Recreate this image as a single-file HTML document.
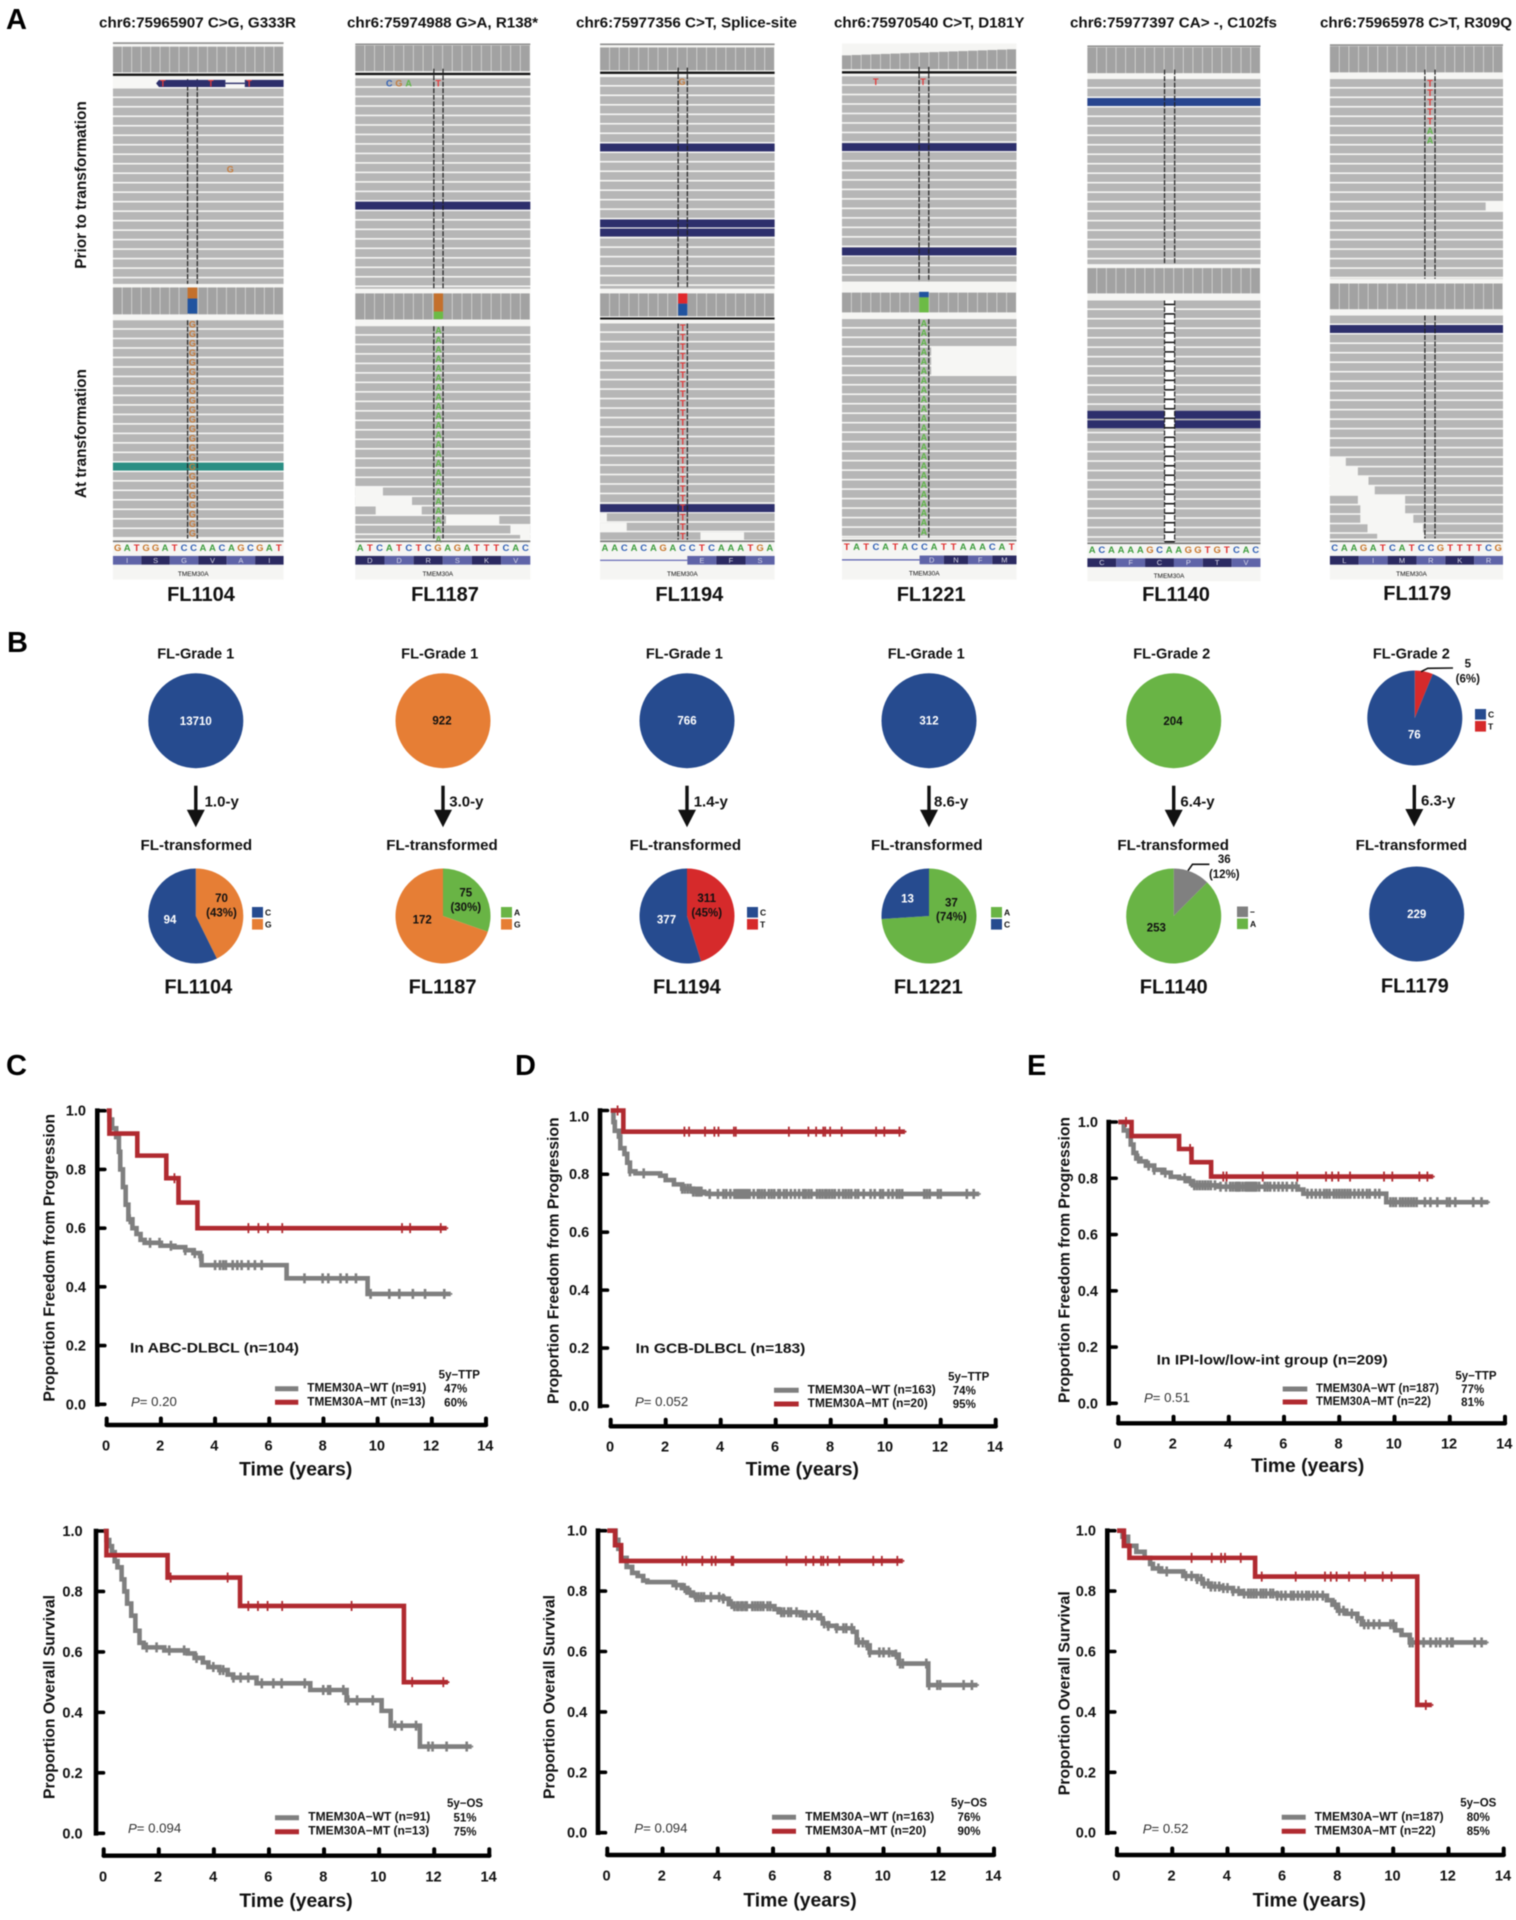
<!DOCTYPE html>
<html lang="en">
<head>
<meta charset="utf-8">
<title>TMEM30A mutation figure</title>
<style>
html,body{margin:0;padding:0;background:#fff;}
svg{display:block;filter:blur(0.4px);}
text{font-family:"Liberation Sans",sans-serif;fill:#111;dominant-baseline:central;}
.b{font-weight:bold;}
.letter{font-size:29px;font-weight:bold;dominant-baseline:auto;fill:#000;}
.mut{font-size:14.5px;font-weight:bold;}
.fl{font-size:20px;font-weight:bold;text-anchor:middle;}
.grade{font-size:14.6px;font-weight:bold;text-anchor:middle;}
.dur{font-size:15px;font-weight:bold;}
.axt{font-size:19.3px;font-weight:bold;text-anchor:middle;}
.yt{font-size:15.8px;font-weight:bold;text-anchor:middle;}
.ann{font-size:13.6px;font-weight:bold;}
.pv{font-size:13.2px;fill:#333;}
.lg{font-size:11.5px;font-weight:bold;}
.lgc{font-size:11.5px;font-weight:bold;text-anchor:middle;}
.pl{font-size:11.5px;font-weight:bold;text-anchor:middle;}
</style>
</head>
<body>
<svg id="figure" xmlns="http://www.w3.org/2000/svg" width="1516" height="1920" viewBox="0 0 1516 1920">
<rect width="1516" height="1920" fill="#fff"/>

<text class="letter" x="6" y="29">A</text>
<text class="letter" x="7" y="652">B</text>
<text class="letter" x="6" y="1075">C</text>
<text class="letter" x="515" y="1075">D</text>
<text class="letter" x="1027" y="1075">E</text>

<g id="igv-layer"></g>

<text class="mut" x="99" y="23.7" textLength="197" lengthAdjust="spacingAndGlyphs">chr6:75965907 C&gt;G, G333R</text>
<text class="mut" x="347" y="23.7" textLength="191" lengthAdjust="spacingAndGlyphs">chr6:75974988 G&gt;A, R138*</text>
<text class="mut" x="576" y="23.7" textLength="221" lengthAdjust="spacingAndGlyphs">chr6:75977356 C&gt;T, Splice-site</text>
<text class="mut" x="834" y="23.7" textLength="190.5" lengthAdjust="spacingAndGlyphs">chr6:75970540 C&gt;T, D181Y</text>
<text class="mut" x="1070" y="23.7" textLength="207" lengthAdjust="spacingAndGlyphs">chr6:75977397 CA&gt; -, C102fs</text>
<text class="mut" x="1320" y="23.7" textLength="192" lengthAdjust="spacingAndGlyphs">chr6:75965978 C&gt;T, R309Q</text>

<text class="grade" style="font-size:15.4px" transform="translate(81.4,185) rotate(-90)">Prior to transformation</text>
<text class="grade" style="font-size:15.4px" transform="translate(81.4,433.6) rotate(-90)">At transformation</text>

<text class="fl" x="201" y="595">FL1104</text>
<text class="fl" x="445" y="595">FL1187</text>
<text class="fl" x="689.3" y="595">FL1194</text>
<text class="fl" x="931.2" y="595">FL1221</text>
<text class="fl" x="1176" y="595">FL1140</text>
<text class="fl" x="1417.2" y="594">FL1179</text>

<!-- Panel B headings -->
<text class="grade" x="195.8" y="654.7">FL-Grade 1</text>
<text class="grade" x="439.7" y="654.7">FL-Grade 1</text>
<text class="grade" x="684.4" y="654.7">FL-Grade 1</text>
<text class="grade" x="926.3" y="654.7">FL-Grade 1</text>
<text class="grade" x="1171.8" y="654.7">FL-Grade 2</text>
<text class="grade" x="1411.4" y="654.7">FL-Grade 2</text>

<text class="grade" style="font-size:15.1px" x="196.3" y="845.7">FL-transformed</text>
<text class="grade" style="font-size:15.1px" x="442" y="845.7">FL-transformed</text>
<text class="grade" style="font-size:15.1px" x="685.4" y="845.7">FL-transformed</text>
<text class="grade" style="font-size:15.1px" x="926.8" y="845.7">FL-transformed</text>
<text class="grade" style="font-size:15.1px" x="1173.2" y="845.7">FL-transformed</text>
<text class="grade" style="font-size:15.1px" x="1411.4" y="845.7">FL-transformed</text>

<text class="dur" x="204.6" y="802">1.0-y</text>
<text class="dur" x="449.3" y="802">3.0-y</text>
<text class="dur" x="693.7" y="802">1.4-y</text>
<text class="dur" x="934" y="802">8.6-y</text>
<text class="dur" x="1180.4" y="802">6.4-y</text>
<text class="dur" x="1421" y="801">6.3-y</text>

<text class="fl" x="198.3" y="987.7">FL1104</text>
<text class="fl" x="442.6" y="987.7">FL1187</text>
<text class="fl" x="686.9" y="987.7">FL1194</text>
<text class="fl" x="928.3" y="987.7">FL1221</text>
<text class="fl" x="1173.7" y="987.7">FL1140</text>
<text class="fl" x="1414.8" y="986.7">FL1179</text>

<g id="pie-layer"></g>
<polyline points="1421,671.7 1427.8,668.3 1453,668" fill="none" stroke="#111" stroke-width="1.6"/>
<polyline points="1188,870.7 1192.5,864.3 1209.4,864.3" fill="none" stroke="#111" stroke-width="1.6"/>

<g id="km-layer"></g>

<!-- Plot C top -->
<text class="yt" transform="translate(50,1257.8) rotate(-90)" textLength="287.7" lengthAdjust="spacingAndGlyphs">Proportion Freedom from Progression</text>
<text class="axt" x="295.7" y="1470">Time (years)</text>
<text class="ann" x="130" y="1348" textLength="169" lengthAdjust="spacingAndGlyphs">In ABC-DLBCL (n=104)</text>
<text class="pv" x="131" y="1401.7"><tspan font-style="italic">P</tspan>= 0.20</text>
<line x1="275" x2="298.3" y1="1388.7" y2="1388.7" stroke="#7f7f7f" stroke-width="5"/>
<line x1="275" x2="298.3" y1="1402.3" y2="1402.3" stroke="#b02a30" stroke-width="5"/>
<text class="lg" x="307.3" y="1388.7" textLength="119" lengthAdjust="spacingAndGlyphs">TMEM30A−WT (n=91)</text>
<text class="lg" x="307.3" y="1402.3" textLength="118" lengthAdjust="spacingAndGlyphs">TMEM30A−MT (n=13)</text>
<text class="lgc" x="459.3" y="1375.7">5y−TTP</text>
<text class="lgc" x="455.7" y="1389.7">47%</text>
<text class="lgc" x="455.7" y="1403.3">60%</text>

<!-- Plot D top -->
<text class="yt" transform="translate(554,1260.7) rotate(-90)" textLength="286.7" lengthAdjust="spacingAndGlyphs">Proportion Freedom from Progression</text>
<text class="axt" x="802.3" y="1470">Time (years)</text>
<text class="ann" x="635.7" y="1348.3" textLength="169.7" lengthAdjust="spacingAndGlyphs">In GCB-DLBCL (n=183)</text>
<text class="pv" x="635" y="1401.7"><tspan font-style="italic">P</tspan>= 0.052</text>
<line x1="774" x2="798.7" y1="1390.3" y2="1390.3" stroke="#7f7f7f" stroke-width="5"/>
<line x1="774" x2="798.7" y1="1404" y2="1404" stroke="#b02a30" stroke-width="5"/>
<text class="lg" x="807.7" y="1390.3" textLength="128" lengthAdjust="spacingAndGlyphs">TMEM30A−WT (n=163)</text>
<text class="lg" x="807.7" y="1404" textLength="120" lengthAdjust="spacingAndGlyphs">TMEM30A−MT (n=20)</text>
<text class="lgc" x="968.7" y="1377.7">5y−TTP</text>
<text class="lgc" x="964.3" y="1391.3">74%</text>
<text class="lgc" x="964.3" y="1405">95%</text>

<!-- Plot E top -->
<text class="yt" transform="translate(1065,1260) rotate(-90)" textLength="286" lengthAdjust="spacingAndGlyphs">Proportion Freedom from Progression</text>
<text class="axt" x="1307.7" y="1466.7">Time (years)</text>
<text class="ann" x="1156.7" y="1360" textLength="231" lengthAdjust="spacingAndGlyphs">In IPI-low/low-int group (n=209)</text>
<text class="pv" x="1144" y="1397.3"><tspan font-style="italic">P</tspan>= 0.51</text>
<line x1="1282.7" x2="1307.3" y1="1389" y2="1389" stroke="#7f7f7f" stroke-width="5"/>
<line x1="1282.7" x2="1307.3" y1="1402" y2="1402" stroke="#b02a30" stroke-width="5"/>
<text class="lg" x="1316" y="1389" textLength="123" lengthAdjust="spacingAndGlyphs">TMEM30A−WT (n=187)</text>
<text class="lg" x="1316" y="1402" textLength="115" lengthAdjust="spacingAndGlyphs">TMEM30A−MT (n=22)</text>
<text class="lgc" x="1476" y="1376.7">5y−TTP</text>
<text class="lgc" x="1472.7" y="1390">77%</text>
<text class="lgc" x="1472.7" y="1403">81%</text>

<!-- Plot C bottom -->
<text class="yt" transform="translate(50,1697) rotate(-90)" textLength="204" lengthAdjust="spacingAndGlyphs">Proportion Overall Survival</text>
<text class="axt" x="296" y="1901.7">Time (years)</text>
<text class="pv" x="128" y="1828"><tspan font-style="italic">P</tspan>= 0.094</text>
<line x1="275" x2="299" y1="1817.7" y2="1817.7" stroke="#7f7f7f" stroke-width="5"/>
<line x1="275" x2="299" y1="1831.7" y2="1831.7" stroke="#b02a30" stroke-width="5"/>
<text class="lg" x="308.3" y="1817.7" textLength="122" lengthAdjust="spacingAndGlyphs">TMEM30A−WT (n=91)</text>
<text class="lg" x="308.3" y="1831.7" textLength="121" lengthAdjust="spacingAndGlyphs">TMEM30A−MT (n=13)</text>
<text class="lgc" x="465" y="1804">5y−OS</text>
<text class="lgc" x="465" y="1818.7">51%</text>
<text class="lgc" x="465" y="1832.7">75%</text>

<!-- Plot D bottom -->
<text class="yt" transform="translate(550,1697) rotate(-90)" textLength="204" lengthAdjust="spacingAndGlyphs">Proportion Overall Survival</text>
<text class="axt" x="800" y="1901">Time (years)</text>
<text class="pv" x="634.3" y="1828"><tspan font-style="italic">P</tspan>= 0.094</text>
<line x1="772" x2="796" y1="1817.3" y2="1817.3" stroke="#7f7f7f" stroke-width="5"/>
<line x1="772" x2="796" y1="1831.3" y2="1831.3" stroke="#b02a30" stroke-width="5"/>
<text class="lg" x="805.3" y="1817.3" textLength="129" lengthAdjust="spacingAndGlyphs">TMEM30A−WT (n=163)</text>
<text class="lg" x="805.3" y="1831.3" textLength="121" lengthAdjust="spacingAndGlyphs">TMEM30A−MT (n=20)</text>
<text class="lgc" x="969" y="1803.3">5y−OS</text>
<text class="lgc" x="969" y="1818">76%</text>
<text class="lgc" x="969" y="1832">90%</text>

<!-- Plot E bottom -->
<text class="yt" transform="translate(1065,1693.3) rotate(-90)" textLength="204" lengthAdjust="spacingAndGlyphs">Proportion Overall Survival</text>
<text class="axt" x="1309.3" y="1901">Time (years)</text>
<text class="pv" x="1142.7" y="1828.7"><tspan font-style="italic">P</tspan>= 0.52</text>
<line x1="1281.7" x2="1305.7" y1="1817.3" y2="1817.3" stroke="#7f7f7f" stroke-width="5"/>
<line x1="1281.7" x2="1305.7" y1="1831.3" y2="1831.3" stroke="#b02a30" stroke-width="5"/>
<text class="lg" x="1314.7" y="1817.3" textLength="129" lengthAdjust="spacingAndGlyphs">TMEM30A−WT (n=187)</text>
<text class="lg" x="1314.7" y="1831.3" textLength="121" lengthAdjust="spacingAndGlyphs">TMEM30A−MT (n=22)</text>
<text class="lgc" x="1478.3" y="1803.3">5y−OS</text>
<text class="lgc" x="1478.3" y="1818">80%</text>
<text class="lgc" x="1478.3" y="1832">85%</text>
</svg>

<script>
/* ---------- Chart data: survival curves ---------- */
const xTickLabels = [0, 2, 4, 6, 8, 10, 12, 14];
const yTickValues = [0, 0.2, 0.4, 0.6, 0.8, 1.0];

const abcTtpMtTimes = [0, 0.1, 1.13, 2.2, 2.65, 3.35, 12.55];
const abcTtpMtSurv = [1, 0.922, 0.847, 0.77, 0.687, 0.6, 0.6];
const abcTtpMtCensor = [2.5, 5.23, 5.6, 5.95, 6.48, 10.9, 11.2, 12.33];
const abcTtpWtTimes = [0, 0.1, 0.2, 0.35, 0.45, 0.5, 0.6, 0.7, 0.8, 0.95, 1.1, 1.25, 1.4, 2, 2.5, 2.9, 3.2, 3.45, 3.5, 6.64, 9.63, 12.7];
const abcTtpWtSurv = [1, 0.97, 0.94, 0.91, 0.86, 0.8, 0.74, 0.68, 0.63, 0.6, 0.58, 0.56, 0.55, 0.54, 0.535, 0.525, 0.515, 0.505, 0.474, 0.429, 0.376, 0.376];
const abcTtpWtCensor = [0.85, 1.6, 1.95, 2.37, 2.9, 3.25, 3.45, 4.0, 4.18, 4.3, 4.4, 4.65, 4.82, 4.98, 5.23, 5.47, 5.72, 7.3, 7.97, 8.18, 8.63, 8.86, 9.2, 9.74, 10.43, 10.8, 11.3, 11.75, 12.46];

const gcbTtpMtTimes = [0, 0.46, 10.7];
const gcbTtpMtSurv = [1.02, 0.947, 0.947];
const gcbTtpMtCensor = [0.25, 2.68, 2.85, 3.43, 3.77, 3.92, 4.48, 4.55, 6.48, 7.19, 7.47, 7.73, 7.8, 7.98, 8.4, 9.65, 9.95, 10.5];
const gcbTtpWtTimes = [0, 0.1, 0.15, 0.3, 0.35, 0.5, 0.6, 0.7, 0.9, 1.8, 2.0, 2.3, 2.6, 3.0, 3.4, 3.5, 13.4];
const gcbTtpWtSurv = [1.02, 0.98, 0.95, 0.93, 0.89, 0.87, 0.84, 0.81, 0.803, 0.795, 0.78, 0.765, 0.75, 0.74, 0.735, 0.732, 0.732];
const gcbTtpWtCensor = [0.7, 1.2, 2.6, 2.7, 2.8, 2.9, 3.0, 3.1, 3.15, 3.2, 3.25, 3.3, 3.6, 3.9, 4.1, 4.2, 4.35, 4.5, 4.55, 4.6, 4.65, 4.7, 4.75, 4.8, 4.85, 4.9, 4.95, 5.0, 5.05, 5.2, 5.35, 5.4, 5.5, 5.6, 5.75, 5.85, 5.95, 6.1, 6.15, 6.3, 6.4, 6.55, 6.7, 6.85, 7.0, 7.05, 7.1, 7.2, 7.3, 7.5, 7.6, 7.7, 7.8, 7.85, 7.95, 8.05, 8.15, 8.3, 8.45, 8.55, 8.65, 8.75, 8.9, 9.0, 9.2, 9.45, 9.6, 9.8, 9.9, 10.1, 10.25, 10.4, 10.5, 10.6, 11.4, 11.5, 11.6, 11.9, 12.0, 12.95, 13.2];

const ipiTtpMtTimes = [0, 0.48, 2.2, 2.65, 3.36, 11.4];
const ipiTtpMtSurv = [1, 0.95, 0.904, 0.857, 0.806, 0.806];
const ipiTtpMtCensor = [0.28, 2.6, 3.8, 3.92, 5.23, 6.48, 7.52, 7.74, 7.97, 8.39, 9.62, 9.92, 10.9, 11.19];
const ipiTtpWtTimes = [0, 0.2, 0.35, 0.45, 0.55, 0.65, 0.8, 1.0, 1.3, 1.6, 1.9, 2.2, 2.5, 2.7, 3.6, 6.5, 6.7, 9.7, 13.4];
const ipiTtpWtSurv = [1, 0.97, 0.95, 0.92, 0.89, 0.87, 0.86, 0.845, 0.83, 0.82, 0.805, 0.8, 0.79, 0.775, 0.77, 0.76, 0.745, 0.715, 0.715];
const ipiTtpWtCensor = [0.72, 1.1, 1.3, 1.7, 2.4, 2.6, 2.75, 2.85, 2.95, 3.05, 3.15, 3.25, 3.35, 3.5, 3.7, 3.9, 4.05, 4.15, 4.25, 4.3, 4.35, 4.4, 4.5, 4.6, 4.65, 4.7, 4.75, 4.8, 4.85, 4.9, 4.95, 5.0, 5.1, 5.3, 5.4, 5.5, 5.65, 5.8, 5.95, 6.1, 6.3, 6.45, 6.85, 7.0, 7.15, 7.3, 7.45, 7.55, 7.65, 7.8, 7.9, 8.0, 8.1, 8.2, 8.3, 8.4, 8.55, 8.7, 8.85, 9.0, 9.1, 9.3, 9.45, 9.85, 9.95, 10.05, 10.2, 10.3, 10.4, 10.5, 10.6, 10.7, 10.8, 11.1, 11.3, 11.55, 11.9, 12.0, 12.2, 12.85, 13.15];

const abcOsMtTimes = [0, 0.1, 2.32, 4.95, 10.9, 12.5];
const abcOsMtSurv = [1, 0.92, 0.846, 0.752, 0.5, 0.5];
const abcOsMtCensor = [2.43, 4.5, 5.25, 5.6, 5.95, 6.48, 9.0, 11.2, 12.33];
const abcOsWtTimes = [0, 0.1, 0.2, 0.3, 0.4, 0.5, 0.65, 0.75, 0.85, 1.0, 1.15, 1.3, 1.45, 2.2, 3.05, 3.3, 3.6, 3.8, 4.2, 4.5, 4.7, 5.55, 7.5, 8.82, 10.09, 10.42, 11.48, 13.36];
const abcOsWtSurv = [1, 0.97, 0.95, 0.93, 0.9, 0.88, 0.84, 0.8, 0.76, 0.72, 0.67, 0.63, 0.615, 0.605, 0.595, 0.58, 0.565, 0.55, 0.54, 0.525, 0.515, 0.496, 0.474, 0.44, 0.405, 0.356, 0.287, 0.287];
const abcOsWtCensor = [1.56, 1.92, 2.38, 2.92, 3.37, 3.98, 4.22, 4.34, 4.71, 4.97, 5.25, 5.74, 6.16, 6.46, 7.3, 7.97, 8.15, 8.22, 8.7, 8.88, 9.2, 9.77, 10.58, 10.82, 11.34, 11.79, 11.94, 12.45, 13.18];

const gcbOsMtTimes = [0, 0.28, 0.5, 10.7];
const gcbOsMtSurv = [1, 0.952, 0.9, 0.9];
const gcbOsMtCensor = [2.72, 2.86, 3.44, 3.78, 3.92, 4.5, 4.56, 6.49, 7.19, 7.46, 7.74, 7.82, 7.98, 8.4, 9.63, 9.94, 10.5];
const gcbOsWtTimes = [0, 0.3, 0.4, 0.5, 0.7, 0.9, 1.1, 1.3, 1.45, 2.4, 2.7, 2.9, 3.1, 3.2, 4.2, 4.4, 4.55, 6.05, 6.2, 7.0, 7.7, 7.8, 8.0, 8.3, 8.9, 9.03, 9.4, 9.5, 10.35, 10.55, 11.62, 13.4];
const gcbOsWtSurv = [1, 0.97, 0.94, 0.91, 0.88, 0.86, 0.85, 0.835, 0.83, 0.82, 0.81, 0.795, 0.785, 0.78, 0.775, 0.757, 0.75, 0.74, 0.73, 0.72, 0.71, 0.693, 0.685, 0.677, 0.665, 0.63, 0.62, 0.597, 0.59, 0.56, 0.489, 0.489];
const gcbOsWtCensor = [2.5, 2.8, 3.0, 3.2, 3.3, 3.4, 3.5, 3.75, 4.05, 4.2, 4.5, 4.6, 4.7, 4.75, 4.85, 4.9, 5.0, 5.05, 5.25, 5.35, 5.45, 5.55, 5.65, 5.8, 5.9, 6.3, 6.4, 6.55, 6.65, 6.85, 7.1, 7.2, 7.4, 7.6, 7.85, 8.0, 8.3, 8.55, 8.65, 8.85, 9.1, 9.25, 9.4, 9.5, 9.85, 10.0, 10.2, 10.45, 10.6, 10.7, 11.55, 11.65, 11.95, 12.05, 12.9, 13.2];

const ipiOsMtTimes = [0, 0.25, 0.45, 5.0, 10.87, 11.4];
const ipiOsMtSurv = [1, 0.95, 0.91, 0.848, 0.423, 0.423];
const ipiOsMtCensor = [2.7, 3.43, 3.77, 3.91, 4.48, 5.24, 6.47, 7.53, 7.74, 7.95, 8.4, 8.98, 9.62, 9.94, 11.18];
const ipiOsWtTimes = [0, 0.2, 0.4, 0.7, 1.0, 1.2, 1.3, 1.6, 2.4, 2.9, 3.1, 3.4, 3.8, 4.2, 4.5, 5.8, 7.6, 7.8, 8.0, 8.3, 8.7, 8.86, 10.07, 10.3, 10.6, 13.4];
const ipiOsWtSurv = [1, 0.98, 0.95, 0.93, 0.91, 0.89, 0.875, 0.865, 0.85, 0.84, 0.825, 0.815, 0.81, 0.8, 0.792, 0.785, 0.77, 0.755, 0.735, 0.725, 0.71, 0.69, 0.67, 0.655, 0.63, 0.63];
const ipiOsWtCensor = [1.5, 1.8, 2.5, 2.7, 2.9, 3.05, 3.15, 3.3, 3.4, 3.55, 3.7, 3.85, 4.0, 4.2, 4.4, 4.6, 4.75, 4.85, 4.95, 5.05, 5.2, 5.3, 5.4, 5.55, 5.65, 5.8, 5.95, 6.1, 6.3, 6.4, 6.55, 6.7, 6.85, 6.95, 7.1, 7.25, 7.45, 7.9, 8.05, 8.2, 8.5, 8.7, 8.95, 9.1, 9.3, 9.5, 9.9, 10.0, 10.6, 10.7, 10.85, 11.1, 11.35, 11.55, 11.7, 11.95, 12.1, 12.15, 12.95, 13.2];

/* ---------- Chart data: allele pies ---------- */
const pieSamples = ['FL1104', 'FL1187', 'FL1194', 'FL1221', 'FL1140', 'FL1179'];
const gradePieValues = [[13710], [922], [766], [312], [204], [5, 76]];
const gradePieBases = [['C'], ['G'], ['C'], ['C'], ['A'], ['T', 'C']];
const transformedPieValues = [[70, 94], [75, 172], [311, 377], [37, 13], [36, 253], [229]];
const transformedPieBases = [['G', 'C'], ['A', 'G'], ['T', 'C'], ['A', 'C'], ['-', 'A'], ['C']];

/* ---------- IGV tracks: sequence content ---------- */
const igvSequences = ['GATGGATCCAACAGCGAT', 'ATCATCTCGAGATTTCAC', 'AACACAGACCTCAAATGA', 'TATCATACCATTAAACAT', 'ACAAAAGCAAGGTGTCAC', 'CAAGATCATCCGTTTTCG'];
const igvAminoAcids = [['I','S','G','V','A','I'], ['D','D','R','S','K','V'], ['E','F','S'], ['D','N','F','M'], ['C','F','C','P','T','V'], ['L','I','M','R','K','R']];

const NS = 'http://www.w3.org/2000/svg';
function mk(parent, tag, attrs, txt) {
  const el = document.createElementNS(NS, tag);
  for (const k in attrs) el.setAttribute(k, attrs[k]);
  if (txt !== undefined) el.textContent = txt;
  parent.appendChild(el);
  return el;
}

/* ---------- Panel A ---------- */
function drawIgv() {
  const layer = document.getElementById('igv-layer');
  const baseColor = { A: '#3f9e3f', C: '#2f5fb5', G: '#c8762a', T: '#e03030' };
  const readLetterColor = { A: '#5fb548', G: '#c47a3a', T: '#e23b3b' };
  const Y = z => z / 2.529;
  const panels = [
    { z: 0, x: [233, 585], dash: [387, 407], top: 107, cov: [118, 183], black: [186, 192], r1: [224, 718], cov2: [727, 795], r2: [810, 1362], blue1: [], blue2: [], teal2: [1170], seq: 1387, aa: [1406, 1428], gene: 1453, end: 1466, allele: [['#c4702c', 727, 755], ['#20539f', 755, 793]], letter2: 'G', patches: [] },
    { z: 0, x: [733, 1094], dash: [895, 914], top: 110, cov: [115, 180], black: [184, 190], r1: [198, 730], cov2: [742, 808], r2: [825, 1362], blue1: [510], blue2: [], seq: 1387, aa: [1406, 1428], gene: 1453, end: 1466, allele: [['#c4702c', 742, 788], ['#6cbb45', 788, 807]], letter2: 'A', patches: [[733,1232,790,1256],[733,1256,850,1280],[775,1280,870,1304],[920,1304,1030,1328],[1053,1328,1094,1352],[1073,1352,1094,1366]] },
    { z: 0, x: [1238, 1598], dash: [1399, 1418], top: 110, cov: [120, 178], black: [181, 187], black2: [803, 808], r1: [195, 730], cov2: [742, 800], r2: [818, 1365], blue1: [363, 555, 578], blue2: [1275], seq: 1387, aa: [1406, 1428], intron: 1418, gene: 1453, end: 1466, allele: [['#e0282c', 742, 768], ['#20539f', 768, 798]], letter2: 'T', patches: [[1238,1298,1252,1322],[1238,1322,1293,1346],[1445,1346,1535,1366]] },
    { z: 1, x: [170, 532], dash: [330, 350], top: 110, cov: [133, 175], slope: true, black: [180, 186], r1: [193, 712], cov2: [740, 790], r2: [807, 1360], blue1: [362, 626], blue2: [], seq: 1385, aa: [1405, 1427], intron: 331, gene: 1452, end: 1466, allele: [['#20539f', 738, 752], ['#6cbb45', 752, 790]], letter2: 'A', patches: [[355,877,532,949]] },
    { z: 1, x: [679, 1038], dash: [839, 860], top: 115, cov: [120, 185], r1: [200, 668], cov2: [678, 742], r2: [760, 1370], lightBlue1: [248], blue1: [], blue2: [1039, 1063], seq: 1392, aa: [1412, 1434], gene: 1458, end: 1470, allele: [], deletion: true, patches: [] },
    { z: 1, x: [1182, 1541], dash: [1379, 1400], top: 112, cov: [117, 183], r1: [200, 705], cov2: [717, 782], r2: [798, 1362], blue1: [], blue2: [822], seq: 1387, aa: [1406, 1428], gene: 1453, end: 1466, allele: [], letters1: ['T','T','T','T','T','A','A'], patches: [[1505,510,1541,534],[1182,1157,1215,1180],[1182,1180,1240,1204],[1182,1204,1262,1228],[1182,1228,1275,1252],[1240,1252,1338,1276],[1245,1276,1338,1300],[1245,1300,1355,1324],[1260,1324,1375,1348],[1280,1348,1378,1366]] }
  ];
  panels.forEach((p, idx) => {
    const X = z => p.z ? 760 + z / 2.074 : z / 2.063;
    const x0 = X(p.x[0]), x1 = X(p.x[1]), w = x1 - x0;
    const g = mk(layer, 'g', {});
    
    

    const bg = mk(g, 'rect', { x: x0, y: Y(p.top), width: w, height: Y(p.end) - Y(p.top), fill: '#f5f5f3' });
    
    

    const frame = mk(g, 'rect', { x: x0, y: Y(p.top), width: w, height: 1.6, fill: p.slope ? '#f5f5f3' : '#8e8e8e' });
    
    

    // coverage tracks
    [p.cov, p.cov2].forEach((c, ci) => {
      const cw = w / 18;
      for (let i = 0; i < 18; i++) {
        const t = (p.slope && ci === 0) ? c[0] + 7 - i * 0.9 : c[0];
        const bar = mk(g, 'rect', { x: x0 + i * cw, y: Y(t), width: cw - 0.5, height: Y(c[1]) - Y(t), fill: '#a2a2a2' });
        
        
      }
    });
    [p.black, p.black2].forEach(b => {
      if (!b) return;
      const line = mk(g, 'rect', { x: x0, y: Y(b[0]), width: w, height: Y(b[1]) - Y(b[0]), fill: '#151515' });
      
      
    });

    // read rows
    const midX = X((p.dash[0] + p.dash[1]) / 2);
    const drawRows = (range) => {
      for (let t = range[0]; t < range[1]; t += 24) {
        const b = Math.min(t + 20, range[1]);
        const read = mk(g, 'rect', { x: x0, y: Y(t), width: w, height: Y(b) - Y(t), fill: '#b6b6b6' });
        
        
      }
    };
    if (idx === 0) {
      const firstRow = mk(g, 'rect', { x: x0, y: Y(200), width: w, height: Y(222) - Y(200), fill: '#f7f7f5' });
      
      
    }
    drawRows(p.r1);
    drawRows(p.r2);

    (p.patches || []).forEach(q => {
      const patch = mk(g, 'rect', { x: X(q[0]), y: Y(q[1]), width: X(q[2]) - X(q[0]), height: Y(q[3]) - Y(q[1]), fill: '#f6f6f4' });
      
      
    });

    const band = (list, color, name) => (list || []).forEach(t => {
      const r = mk(g, 'rect', { x: x0, y: Y(t), width: w, height: Y(t + 20) - Y(t), fill: color });
      
      
    });
    band(p.blue1, '#2d2f6c', 'dark-read-row');
    band(p.blue2, '#2d2f6c', 'dark-read-row');
    band(p.lightBlue1, '#27458f', 'blue-read-row');
    band(p.teal2, '#2a8f84', 'teal-read-row');

    // allele-frequency column
    p.allele.forEach(a => {
      const r = mk(g, 'rect', { x: X(p.dash[0]), y: Y(a[1]), width: X(p.dash[1]) - X(p.dash[0]), height: Y(a[2]) - Y(a[1]), fill: a[0] });
      
      
    });

    // deletion ladder
    if (p.deletion) {
      const del = mk(g, 'rect', { x: X(p.dash[0]), y: Y(p.r2[0]), width: X(p.dash[1]) - X(p.dash[0]), height: Y(p.r2[1]) - Y(p.r2[0]), fill: '#fff' });
      
      
      for (let t = p.r2[0] + 8; t < p.r2[1]; t += 24) {
        const rung = mk(g, 'rect', { x: X(p.dash[0]), y: Y(t), width: X(p.dash[1]) - X(p.dash[0]), height: 1.5, fill: '#111' });
        
        
      }
    }

    // dashed position guides
    p.dash.forEach(d => {
      const top = p.r1[0] - 24;
      const a = mk(g, 'line', { x1: X(d), x2: X(d), y1: Y(top), y2: Y(p.r1[1]), stroke: '#222', 'stroke-width': 1.2, 'stroke-dasharray': '5 1.5' });
      
      
      const b = mk(g, 'line', { x1: X(d), x2: X(d), y1: Y(p.r2[0]), y2: Y(p.r2[1]), stroke: '#222', 'stroke-width': 1.2, 'stroke-dasharray': '5 1.5' });
      
      
    });

    // read letters
    if (p.letter2) {
      for (let t = p.r2[0]; t < p.r2[1] - 4; t += 24) {
        const l = mk(g, 'text', { x: midX, y: Y(t + 11), 'font-size': 9, 'font-weight': 'bold', 'text-anchor': 'middle', style: 'fill:' + readLetterColor[p.letter2] }, p.letter2);
        
        
      }
    }
    (p.letters1 || []).forEach((c, i) => {
      const l = mk(g, 'text', { x: midX, y: Y(p.r1[0] + i * 24 + 11), 'font-size': 9, 'font-weight': 'bold', 'text-anchor': 'middle', style: 'fill:' + readLetterColor[c] }, c);
      
      
    });

    // reference rule
    const ref = mk(g, 'rect', { x: x0, y: Y(p.seq - 20), width: w, height: 1.6, fill: '#777' });
    
    

    // sequence
    const seq = igvSequences[idx];
    [...seq].forEach((c, i) => {
      const t = mk(g, 'text', { x: x0 + (i + 0.5) * w / seq.length, y: Y(p.seq), 'font-size': 9.5, 'font-weight': 'bold', 'text-anchor': 'middle', style: 'fill:' + baseColor[c] }, c);
      
      
    });

    // amino-acid track
    const aas = igvAminoAcids[idx];
    const aaStart = p.intron ? X(p.intron) : x0;
    const cellW = (x1 - aaStart) / aas.length;
    const startDark = idx === 1 || idx === 4 || idx === 5;
    if (p.intron) {
      const il = mk(g, 'line', { x1: x0, x2: aaStart, y1: Y((p.aa[0] + p.aa[1]) / 2), y2: Y((p.aa[0] + p.aa[1]) / 2), stroke: '#5a5fb0', 'stroke-width': 1.2 });
      
      
    }
    aas.forEach((c, i) => {
      const dark = (i % 2 === 0) === startDark;
      const cell = mk(g, 'rect', { x: aaStart + i * cellW, y: Y(p.aa[0]), width: cellW, height: Y(p.aa[1]) - Y(p.aa[0]), fill: dark ? '#2b2a62' : '#5f64a8' });
      
      
      const t = mk(g, 'text', { x: aaStart + (i + 0.5) * cellW, y: Y((p.aa[0] + p.aa[1]) / 2), 'font-size': 7.5, 'text-anchor': 'middle', style: 'fill:#d8d8e8' }, c);
      
      
    });

    const gene = mk(g, 'text', { x: (x0 + x1) / 2 - 5, y: Y(p.gene), 'font-size': 6.5, 'text-anchor': 'middle' }, 'TMEM30A');
    
    
  });

  // gene-model read on the first panel
  const X0 = z => z / 2.063;
  const geneRead = mk(layer, 'path', { d: `M${X0(322)} ${Y(211)}L${X0(328)} ${Y(202)}H${X0(465)}V${Y(220)}H${X0(328)}Z M${X0(505)} ${Y(202)}H${X0(585)}V${Y(220)}H${X0(505)}Z`, fill: '#2d2f6c' });
  
  
  const geneLink = mk(layer, 'rect', { x: X0(465), y: Y(209), width: X0(505) - X0(465), height: 1.4, fill: '#2d2f6c' });
  
  
  const marks = [[0, 475, 429, 'G', '#c47a3a'], [0, 904, 211, 'T', '#e23b3b'], [0, 803, 211, 'C', '#2f5fb5'], [0, 823, 211, 'G', '#c47a3a'], [0, 843, 211, 'A', '#5fb548'], [0, 1407, 208, 'G', '#c47a3a'], [1, 240, 207, 'T', '#e23b3b'], [1, 338, 207, 'T', '#e23b3b'], [0, 336, 211, 'T', '#e23b3b'], [0, 435, 211, 'T', '#e23b3b'], [0, 514, 211, 'T', '#e23b3b']];
  marks.forEach(m => {
    const t = mk(layer, 'text', { x: m[0] ? 760 + m[1] / 2.074 : m[1] / 2.063, y: Y(m[2]), 'font-size': 9, 'font-weight': 'bold', 'text-anchor': 'middle', style: 'fill:' + m[4] }, m[3]);
    
    
  });
}

/* ---------- Panel B ---------- */
const pieColor = { C: '#264b8f', G: '#e67e35', A: '#69b445', T: '#d62a2b', '-': '#808080' };
function drawPies() {
  const layer = document.getElementById('pie-layer');
  const R = 47.5;
  const pieLayout = [
    { top: [195.8, 720.7], low: [195.8, 916], arrowX: 195.8, arrowTop: 785.7, legend: [252, 907], legendOrder: ['C', 'G'], label: { top: [[195.8, 722]], low: [[221.5, 899, 913.3], [170, 920.7]] } },
    { top: [443, 720.7], low: [443, 916], arrowX: 443, arrowTop: 785.7, legend: [501, 907], legendOrder: ['A', 'G'], label: { top: [[442, 721.3]], low: [[465.8, 893.3, 908], [422.2, 920.7]] } },
    { top: [687, 720.7], low: [687, 916], arrowX: 687, arrowTop: 785.7, legend: [747, 907], legendOrder: ['C', 'T'], label: { top: [[687, 721.3]], low: [[706.7, 899, 913.3], [666.5, 920.7]] } },
    { top: [929, 720.7], low: [929, 916], arrowX: 929, arrowTop: 785.7, legend: [991, 907], legendOrder: ['A', 'C'], label: { top: [[929, 721.3]], low: [[951.4, 903.3, 917.7], [907.5, 899.3]] } },
    { top: [1173.7, 720.7], low: [1173.7, 916], arrowX: 1173.7, arrowTop: 785.7, legend: [1237, 906.5], legendOrder: ['-', 'A'], label: { top: [[1173, 722]], low: [[1224.3, 860, 875], [1156.3, 928.3]] } },
    { top: [1414.8, 718], low: [1416.7, 914], arrowX: 1414.3, arrowTop: 785, legend: [1475, 709], legendOrder: ['C', 'T'], label: { top: [[1467.8, 664.3, 679.3], [1414.3, 735.3]], low: [[1416.7, 915]] } }
  ];
  const drawPie = (values, bases, c, labelPos) => {
    const total = values.reduce((a, b) => a + b, 0);
    let ang = 0;
    values.forEach((v, i) => {
      const color = pieColor[bases[i]];
      if (values.length === 1) {
        const full = mk(layer, 'circle', { cx: c[0], cy: c[1], r: R, fill: color });
        
        
      } else {
        const a2 = ang + v / total * Math.PI * 2;
        const large = a2 - ang > Math.PI ? 1 : 0;
        const d = `M${c[0]} ${c[1]}L${c[0] + R * Math.sin(ang)} ${c[1] - R * Math.cos(ang)}A${R} ${R} 0 ${large} 1 ${c[0] + R * Math.sin(a2)} ${c[1] - R * Math.cos(a2)}Z`;
        const slice = mk(layer, 'path', { d: d, fill: color });
        
        
        ang = a2;
      }
      const pos = labelPos[i];
      const lightText = bases[i] === 'C';
      const t = mk(layer, 'text', { class: 'pl', x: pos[0], y: pos[1], style: 'fill:' + (lightText ? '#fff' : '#111') }, String(v));
      
      
      if (pos.length > 2) {
        const pct = mk(layer, 'text', { class: 'pl', x: pos[0], y: pos[2], style: 'fill:#111' }, '(' + Math.round(v / total * 100) + '%)');
        
        
      }
    });
  };
  pieSamples.forEach((s, i) => {
    const L = pieLayout[i];
    drawPie(gradePieValues[i], gradePieBases[i], L.top, L.label.top);
    drawPie(transformedPieValues[i], transformedPieBases[i], L.low, L.label.low);

    const shaft = mk(layer, 'line', { x1: L.arrowX, x2: L.arrowX, y1: L.arrowTop, y2: L.arrowTop + 26, stroke: '#111', 'stroke-width': 3.4 });
    
    
    const head = mk(layer, 'polygon', { points: `${L.arrowX - 9},${L.arrowTop + 24} ${L.arrowX + 9},${L.arrowTop + 24} ${L.arrowX},${L.arrowTop + 41.5}`, fill: '#111' });
    
    

    L.legendOrder.forEach((b, k) => {
      const sw = mk(layer, 'rect', { x: L.legend[0], y: L.legend[1] + k * 12, width: 11, height: 10.6, fill: pieColor[b] });
      
      
      const t = mk(layer, 'text', { x: L.legend[0] + 13, y: L.legend[1] + 5.5 + k * 12, 'font-size': 8.5, 'font-weight': 'bold' }, b === '-' ? '−' : b);
      
      
    });
  });
}

/* ---------- Panels C-E ---------- */
function drawKm() {
  const layer = document.getElementById('km-layer');
  const plots = [
    { id: 'abc-ttp', x0: 106.7, x14: 486, y1: 1110.7, y0: 1404.3, axisX: 97.3, axisY: 1425, labelRight: 86, labelY: 1446.7, wt: [abcTtpWtTimes, abcTtpWtSurv, abcTtpWtCensor], mt: [abcTtpMtTimes, abcTtpMtSurv, abcTtpMtCensor] },
    { id: 'gcb-ttp', x0: 610.7, x14: 995.7, y1: 1116.3, y0: 1406, topV: 1.02, axisX: 600, axisY: 1426.3, labelRight: 589.3, labelY: 1447.3, wt: [gcbTtpWtTimes, gcbTtpWtSurv, gcbTtpWtCensor], mt: [gcbTtpMtTimes, gcbTtpMtSurv, gcbTtpMtCensor] },
    { id: 'ipi-ttp', x0: 1118.3, x14: 1505, y1: 1122, y0: 1403.3, axisX: 1108.7, axisY: 1423.3, labelRight: 1098, labelY: 1444.3, wt: [ipiTtpWtTimes, ipiTtpWtSurv, ipiTtpWtCensor], mt: [ipiTtpMtTimes, ipiTtpMtSurv, ipiTtpMtCensor] },
    { id: 'abc-os', x0: 103.7, x14: 489.3, y1: 1531, y0: 1833.3, axisX: 96, axisY: 1855.7, labelRight: 82.7, labelY: 1877.3, wt: [abcOsWtTimes, abcOsWtSurv, abcOsWtCensor], mt: [abcOsMtTimes, abcOsMtSurv, abcOsMtCensor] },
    { id: 'gcb-os', x0: 607.3, x14: 994, y1: 1530.7, y0: 1832.7, axisX: 598, axisY: 1855, labelRight: 587.3, labelY: 1876.7, wt: [gcbOsWtTimes, gcbOsWtSurv, gcbOsWtCensor], mt: [gcbOsMtTimes, gcbOsMtSurv, gcbOsMtCensor] },
    { id: 'ipi-os', x0: 1117, x14: 1503.7, y1: 1530.7, y0: 1832.7, axisX: 1107.3, axisY: 1855, labelRight: 1096, labelY: 1876.7, wt: [ipiOsWtTimes, ipiOsWtSurv, ipiOsWtCensor], mt: [ipiOsMtTimes, ipiOsMtSurv, ipiOsMtCensor] }
  ];
  plots.forEach(P => {
    const sx = t => P.x0 + t / 14 * (P.x14 - P.x0);
    const sy = v => P.y0 - v * (P.y0 - P.y1);
    const g = mk(layer, 'g', {});
    
    

    const topV = P.topV || 1;
    const yAxis = mk(g, 'line', { x1: P.axisX, x2: P.axisX, y1: sy(topV), y2: sy(0), stroke: '#000', 'stroke-width': 4.6, 'stroke-linecap': 'square' });
    
    
    yTickValues.forEach(v => {
      const tickV = v === 1 ? topV : v;
      const tick = mk(g, 'line', { x1: P.axisX, x2: P.axisX + 7.5, y1: sy(tickV), y2: sy(tickV), stroke: '#000', 'stroke-width': 3.6, 'stroke-linecap': 'round' });
      
      
      const lab = mk(g, 'text', { x: P.labelRight, y: sy(v) + 1, 'font-size': 14.6, 'font-weight': 'bold', 'text-anchor': 'end' }, v.toFixed(1));
      
      
    });

    const xAxis = mk(g, 'line', { x1: sx(0), x2: sx(14), y1: P.axisY, y2: P.axisY, stroke: '#000', 'stroke-width': 4.4, 'stroke-linecap': 'round' });
    
    
    xTickLabels.forEach(t => {
      const tick = mk(g, 'line', { x1: sx(t), x2: sx(t), y1: P.axisY, y2: P.axisY - 6.5, stroke: '#000', 'stroke-width': 4, 'stroke-linecap': 'round' });
      
      
      const lab = mk(g, 'text', { x: sx(t) - 0.7, y: P.labelY, 'font-size': 14.6, 'font-weight': 'bold', 'text-anchor': 'middle' }, String(t));
      
      
    });

    const drawCurve = (s, color, name, width, censorWidth) => {
      const times = s[0], surv = s[1], cens = s[2];
      let d = `M${sx(times[0])} ${sy(surv[0])}`;
      for (let i = 1; i < times.length; i++) d += `H${sx(times[i])}V${sy(surv[i])}`;
      const path = mk(g, 'path', { d: d, fill: 'none', stroke: color, 'stroke-width': width, 'stroke-linejoin': 'miter' });
      
      
      const at = t => { let v = surv[0]; for (let i = 0; i < times.length; i++) { if (times[i] <= t) v = surv[i]; } return v; };
      cens.forEach(t => {
        const m = mk(g, 'line', { x1: sx(t), x2: sx(t), y1: sy(at(t)) - 5, y2: sy(at(t)) + 5, stroke: color, 'stroke-width': censorWidth });
        
        
      });
      const last = times[times.length - 1];
      const tail = mk(g, 'line', { x1: sx(last), x2: sx(last) + 1.5, y1: sy(surv[surv.length - 1]), y2: sy(surv[surv.length - 1]), stroke: color, 'stroke-width': 1.8 });
      
      
    };
    drawCurve(P.wt, '#7f7f7f', 'wild-type', 4.6, 2.6);
    drawCurve(P.mt, '#b02a30', 'mutant', 4.6, 1.8);
  });
}

drawIgv();
drawPies();
drawKm();
</script>
</body>
</html>
